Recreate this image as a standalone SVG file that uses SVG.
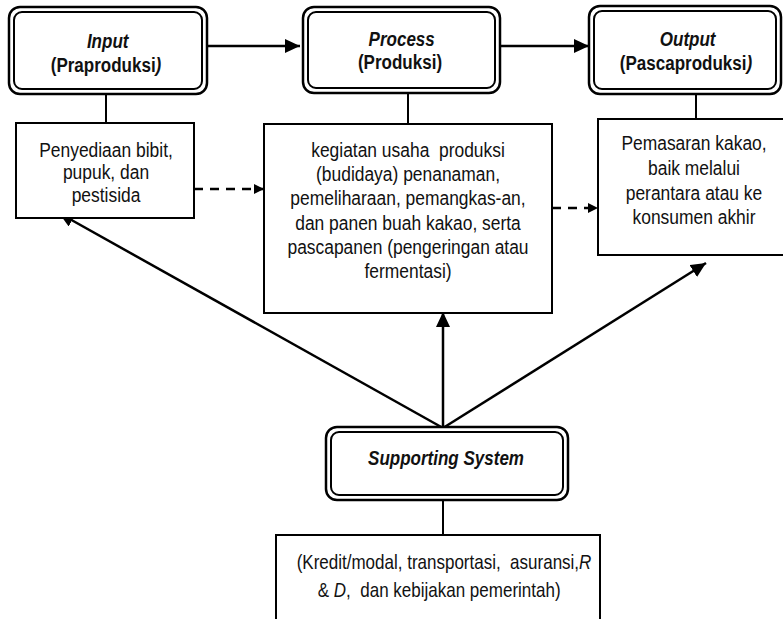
<svg xmlns="http://www.w3.org/2000/svg" width="783" height="619" viewBox="0 0 783 619">
<defs>
<marker id="ahl" viewBox="0 0 10 10" refX="10" refY="5" markerWidth="15" markerHeight="14" markerUnits="userSpaceOnUse" orient="auto" preserveAspectRatio="none">
<path d="M0,0 L10,5 L0,10 z" fill="#000"/>
</marker>
<marker id="ahs" viewBox="0 0 10 10" refX="10" refY="5" markerWidth="10" markerHeight="10" markerUnits="userSpaceOnUse" orient="auto">
<path d="M0,0 L10,5 L0,10 z" fill="#000"/>
</marker>
</defs>
<style>
.o{fill:#fff;stroke:#000;stroke-width:2.5}
.i{fill:none;stroke:#000;stroke-width:2}
.b{fill:#fff;stroke:#000;stroke-width:2}
.t{font-family:"Liberation Sans",Arial,sans-serif;font-size:21px;fill:#111;text-anchor:middle;white-space:pre}
.h{font-weight:bold;font-size:20.5px}
.it{font-style:italic}
.c{stroke:#000;stroke-width:2.5;fill:none}
.l{stroke:#000;stroke-width:2;fill:none}
.d{stroke:#000;stroke-width:2.5;fill:none;stroke-dasharray:9 7}
</style>
<g id="connectors">
<line class="c" x1="207" y1="46" x2="300" y2="46" marker-end="url(#ahl)"/>
<line class="c" x1="500" y1="46" x2="589" y2="46" marker-end="url(#ahl)"/>
<line class="l" x1="106" y1="94" x2="106" y2="123"/>
<line class="l" x1="408" y1="93" x2="408" y2="124"/>
<line class="l" x1="696" y1="94" x2="696" y2="119"/>
<line class="l" x1="443" y1="500" x2="443" y2="535"/>
<line class="d" x1="194" y1="189" x2="264" y2="189" marker-end="url(#ahs)"/>
<line class="d" x1="552" y1="208" x2="598" y2="208" marker-end="url(#ahs)"/>
<line class="c" x1="443" y1="428" x2="59" y2="213" marker-end="url(#ahl)"/>
<line class="c" x1="443" y1="428" x2="443" y2="312" marker-end="url(#ahl)"/>
<line class="c" x1="443" y1="428" x2="706" y2="263" marker-end="url(#ahl)"/>
</g>
<g id="input">
<rect class="o" x="9" y="7" width="198" height="87" rx="11"/>
<rect class="i" x="14" y="12" width="188" height="77" rx="8"/>
<g transform="translate(106 0) scale(0.83 1)">
<text class="t h" x="2" y="48"><tspan class="it">Input</tspan></text>
<text class="t h" x="0" y="72">(Praproduksi<tspan class="it">)</tspan></text>
</g>
</g>
<g id="process">
<rect class="o" x="303" y="7" width="197" height="86" rx="11"/>
<rect class="i" x="308" y="12" width="187" height="76" rx="8"/>
<g transform="translate(400 0) scale(0.83 1)">
<text class="t h" x="2" y="46"><tspan class="it">Process</tspan></text>
<text class="t h" x="0" y="69">(Produksi)</text>
</g>
</g>
<g id="output">
<rect class="o" x="589" y="6" width="192" height="88" rx="11"/>
<rect class="i" x="594" y="11" width="182" height="78" rx="8"/>
<g transform="translate(686 0) scale(0.83 1)">
<text class="t h" x="2" y="46"><tspan class="it">Output</tspan></text>
<text class="t h" x="0" y="70">(Pascaproduksi<tspan class="it">)</tspan></text>
</g>
</g>
<g id="input-detail">
<rect class="b" x="16" y="123" width="178" height="95"/>
<g transform="translate(106 0) scale(0.83 1)">
<text class="t" x="0" y="157">Penyediaan bibit,</text>
<text class="t" x="0" y="179">pupuk, dan</text>
<text class="t" x="0" y="202">pestisida</text>
</g>
</g>
<g id="process-detail">
<rect class="b" x="264" y="124" width="288" height="189"/>
<g transform="translate(408 0) scale(0.83 1)">
<text class="t" x="0" y="157">kegiatan usaha  produksi</text>
<text class="t" x="0" y="181">(budidaya) penanaman,</text>
<text class="t" x="0" y="205">pemeliharaan, pemangkas-an,</text>
<text class="t" x="0" y="230">dan panen buah kakao, serta</text>
<text class="t" x="0" y="254">pascapanen (pengeringan atau</text>
<text class="t" x="0" y="278">fermentasi)</text>
</g>
</g>
<g id="output-detail">
<rect class="b" x="598" y="119" width="192" height="136"/>
<g transform="translate(694 0) scale(0.83 1)">
<text class="t" x="0" y="150">Pemasaran kakao,</text>
<text class="t" x="0" y="175">baik melalui</text>
<text class="t" x="0" y="200">perantara atau ke</text>
<text class="t" x="0" y="224">konsumen akhir</text>
</g>
</g>
<g id="supporting-system">
<rect class="o" x="326" y="427" width="242" height="73" rx="11"/>
<rect class="i" x="331" y="432" width="232" height="63" rx="8"/>
<g transform="translate(446 0) scale(0.83 1)">
<text class="t h it" x="0" y="465">Supporting System</text>
</g>
</g>
<g id="supporting-detail">
<rect class="b" x="276" y="535" width="324" height="100"/>
<g transform="translate(444 0) scale(0.81 1)">
<text class="t" x="0" y="569">(Kredit/modal, transportasi,  asuransi,<tspan class="it">R</tspan></text>
<text class="t" x="-6" y="597">&amp; <tspan class="it">D</tspan>,  dan kebijakan pemerintah)</text>
</g>
</g>
</svg>
